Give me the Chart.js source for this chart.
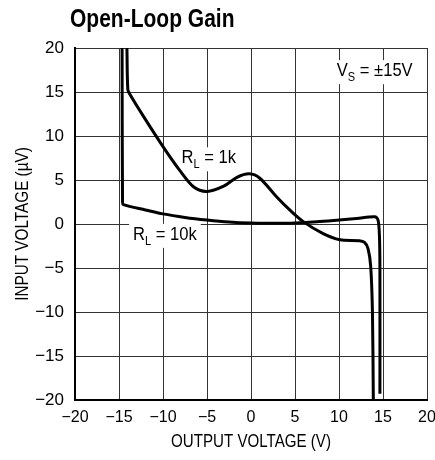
<!DOCTYPE html>
<html>
<head>
<meta charset="utf-8">
<script src="https://cdn.jsdelivr.net/npm/chart.js@4.4.0/dist/chart.umd.min.js"></script>
<style>
  html, body { margin: 0; padding: 0; background: #fff; }
</style>
</head>
<body>
<canvas id="gainChart" width="435" height="460"></canvas>
<script>
// values (output volts vs input microvolts)
const rl1kX = [-14.1, -14.0, -13.8, -12.2, -10.0, -8.1, -6.5, -5.0, -3.1, -1.6, -0.2, 1.0, 2.9, 4.4, 5.9, 8.2, 10.1, 12.3, 12.9, 13.3, 13.6, 13.8, 13.9];
const rl1kY = [20, 15.3, 14.8, 12.2, 8.8, 6.1, 4.2, 3.7, 4.3, 5.3, 5.7, 5.2, 3.1, 1.6, 0.3, -1.1, -1.8, -1.9, -2.1, -2.8, -4.8, -10, -20];

const rl10kX = [-14.65, -14.6, -14.5, -12.0, -10.0, -7.5, -5.0, -2.5, 0, 2.5, 5.0, 7.5, 10.0, 12.0, 14.1, 14.45, 14.6, 14.65, 14.65];
const rl10kY = [20, 2.5, 2.2, 1.6, 1.15, 0.75, 0.45, 0.22, 0.1, 0.08, 0.12, 0.25, 0.45, 0.62, 0.83, 0.4, -1.5, -5, -19.3];

const xTicks = [-20, -15, -10, -5, 0, 5, 10, 15, 20];
const yTicks = [-20, -15, -10, -5, 0, 5, 10, 15, 20];

const chartTitle = 'Open-Loop Gain';
const xTitle = 'OUTPUT VOLTAGE (V)';
const yTitle = 'INPUT VOLTAGE (\u00b5V)';

// curve labels: [main, subscript, rest, x, y]
const notes = [
  ['R', 'L', ' = 1k', -7.9, 6.9],
  ['R', 'L', ' = 10k', -13.4, -1.8],
  ['V', 'S', ' = \u00b115V', 9.75, 16.8]
];

const FONT = '"Liberation Sans", Arial, sans-serif';

function minus(v) {
  return v < 0 ? '\u2212' + Math.abs(v) : String(v);
}

function pts(xs, ys) {
  return xs.map((x, i) => ({ x: x, y: ys[i] }));
}

// condensed look: squeeze text horizontally
function narrowText(ctx, text, x, y, sx) {
  ctx.save();
  ctx.translate(x, y);
  ctx.scale(sx, 1);
  ctx.fillText(text, 0, 0);
  ctx.restore();
}

const labelPlugin = {
  id: 'labelPlugin',
  beforeDatasetsDraw(chart) {
    const ctx = chart.ctx;
    const xs = chart.scales.x, ys = chart.scales.y;
    const sx = 0.92;
    ctx.save();
    ctx.textBaseline = 'alphabetic';
    notes.forEach(n => {
      const x = xs.getPixelForValue(n[3]);
      const y = ys.getPixelForValue(n[4]);
      ctx.font = '18px ' + FONT;
      const w1 = ctx.measureText(n[0]).width * sx;
      const w3 = ctx.measureText(n[2]).width * sx;
      ctx.font = '12px ' + FONT;
      const w2 = ctx.measureText(n[1]).width * sx;
      const w = w1 + w2 + w3;
      ctx.fillStyle = '#fff';
      ctx.fillRect(x - 4, y - 16, w + 8, 24);
      ctx.fillStyle = '#000';
      ctx.font = '18px ' + FONT;
      narrowText(ctx, n[0], x, y, sx);
      narrowText(ctx, n[2], x + w1 + w2, y, sx);
      ctx.font = '12px ' + FONT;
      narrowText(ctx, n[1], x + w1, y + 5, sx);
    });
    ctx.restore();
  },
  afterDraw(chart) {
    const ctx = chart.ctx;
    const area = chart.chartArea;
    ctx.save();
    ctx.fillStyle = '#000';
    ctx.textBaseline = 'alphabetic';
    ctx.font = 'bold 25px ' + FONT;
    narrowText(ctx, chartTitle, 70, 27, 0.84);

    ctx.font = '18px ' + FONT;
    ctx.textAlign = 'center';
    narrowText(ctx, xTitle, (area.left + area.right) / 2, 447, 0.84);

    ctx.save();
    ctx.translate(28, (area.top + area.bottom) / 2);
    ctx.rotate(-Math.PI / 2);
    narrowText(ctx, yTitle, 0, 0, 0.85);
    ctx.restore();
    ctx.restore();
  }
};

const ctx = document.getElementById('gainChart').getContext('2d');
const chart = new Chart(ctx, {
  type: 'scatter',
  data: {
    datasets: [{
      label: 'RL = 1k',
      data: pts(rl1kX, rl1kY),
      showLine: true,
      borderColor: '#000',
      borderWidth: 3,
      pointRadius: 0,
      tension: 0.3
    }, {
      label: 'RL = 10k',
      data: pts(rl10kX, rl10kY),
      showLine: true,
      borderColor: '#000',
      borderWidth: 3,
      pointRadius: 0,
      tension: 0.3
    }]
  },
  options: {
    responsive: false,
    animation: false,
    layout: { padding: { top: 48, right: 8, left: 0, bottom: 0 } },
    plugins: {
      legend: { display: false },
      tooltip: { enabled: false }
    },
    scales: {
      x: {
        type: 'linear',
        min: -20,
        max: 20,
        afterBuildTicks: s => { s.ticks = xTicks.map(v => ({ value: v })); },
        afterFit: s => { s.height = 60; s.paddingLeft = 0; s.paddingRight = 0; },
        ticks: {
          callback: minus,
          color: '#000',
          font: { family: FONT, size: 16 },
          padding: 8,
          maxRotation: 0
        },
        grid: { color: '#333', lineWidth: 1, drawTicks: false },
        border: { color: '#000', width: 2 }
      },
      y: {
        type: 'linear',
        min: -20,
        max: 20,
        afterBuildTicks: s => { s.ticks = yTicks.map(v => ({ value: v })); },
        afterFit: s => { s.width = 75; s.paddingTop = 0; s.paddingBottom = 0; },
        ticks: {
          callback: minus,
          color: '#000',
          font: { family: FONT, size: 17 },
          padding: 11
        },
        grid: { color: '#333', lineWidth: 1, drawTicks: false },
        border: { color: '#000', width: 2 }
      }
    }
  },
  plugins: [labelPlugin]
});
</script>
</body>
</html>
